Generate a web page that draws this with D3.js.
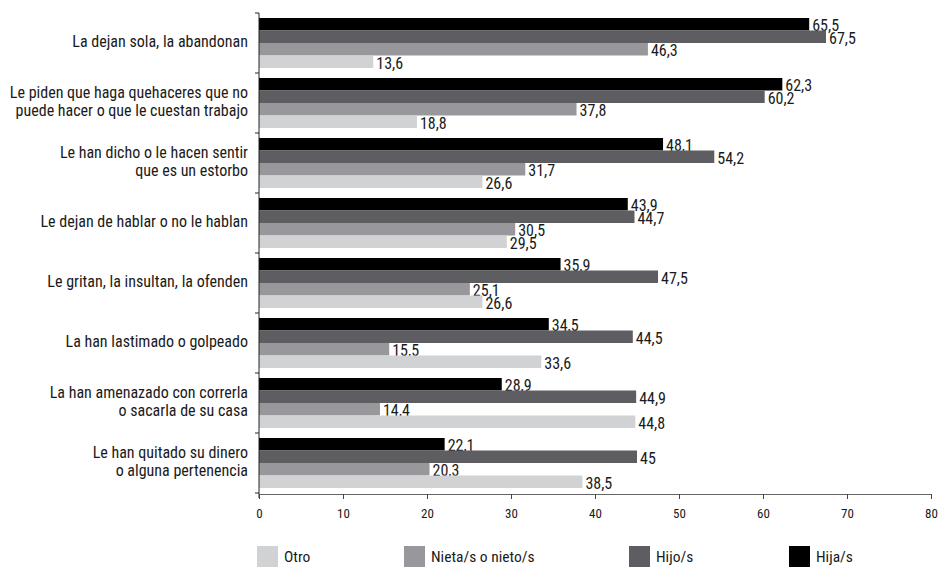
<!DOCTYPE html>
<html>
<head>
<meta charset="utf-8">
<script src="https://cdn.jsdelivr.net/npm/d3@7"></script>
<style>
  body { margin: 0; background: #fff; }
  text { font-family: "Roboto Condensed", "Liberation Sans Narrow", "Arial Narrow", "Liberation Sans", sans-serif; }
</style>
</head>
<body>
<div id="chart"></div>
<script>
// Categories (top to bottom), each as lines of text
const categories = [
    ['La dejan sola, la abandonan'],
    ['Le piden que haga quehaceres que no', 'puede hacer o que le cuestan trabajo'],
    ['Le han dicho o le hacen sentir', 'que es un estorbo'],
    ['Le dejan de hablar o no le hablan'],
    ['Le gritan, la insultan, la ofenden'],
    ['La han lastimado o golpeado'],
    ['La han amenazado con correrla', 'o sacarla de su casa'],
    ['Le han quitado su dinero', 'o alguna pertenencia']
];

// Series names, in bar order within a group (top to bottom)
const seriesNames = ['Hija/s', 'Hijo/s', 'Nieta/s o nieto/s', 'Otro'];
const seriesColors = ['#000000', '#5e5d62', '#98979c', '#d1d2d4'];

const hija  = [65.5, 62.3, 48.1, 43.9, 35.9, 34.5, 28.9, 22.1];
const hijo  = [67.5, 60.2, 54.2, 44.7, 47.5, 44.5, 44.9, 45];
const nieta = [46.3, 37.8, 31.7, 30.5, 25.1, 15.5, 14.4, 20.3];
const otro  = [13.6, 18.8, 26.6, 29.5, 26.6, 33.6, 44.8, 38.5];

// Legend order (left to right)
const legendOrder = ['Otro', 'Nieta/s o nieto/s', 'Hijo/s', 'Hija/s'];
const xTicks = [0, 10, 20, 30, 40, 50, 60, 70, 80];

const width = 938, height = 576;
const margin = { top: 13, left: 259, right: 7, bottom: 83 };
const innerW = width - margin.left - margin.right;
const innerH = height - margin.top - margin.bottom;

const seriesValues = [hija, hijo, nieta, otro];
const fmt = v => String(v).replace('.', ',');

const svg = d3.select('#chart').append('svg')
    .attr('width', width)
    .attr('height', height);

const g = svg.append('g').attr('transform', `translate(${margin.left},${margin.top})`);

const x = d3.scaleLinear().domain([0, 80]).range([0, innerW]);
const y0 = d3.scaleBand().domain(d3.range(categories.length)).range([0, innerH]).paddingInner(0).paddingOuter(0);
const y1 = d3.scaleBand().domain(d3.range(seriesNames.length))
    .range([0, y0.bandwidth()]).paddingOuter(0.4);

// Bars
const groups = g.selectAll('g.grp')
    .data(categories)
    .enter().append('g')
    .attr('class', 'grp')
    .attr('transform', (d, i) => `translate(0,${y0(i)})`);

groups.each(function(cat, ci) {
    const grp = d3.select(this);
    seriesNames.forEach((s, si) => {
        const v = seriesValues[si][ci];
        grp.append('rect')
            .attr('x', 0)
            .attr('y', y1(si))
            .attr('width', x(v))
            .attr('height', y1.bandwidth())
            .attr('fill', seriesColors[si]);
        grp.append('text')
            .attr('x', x(v) + 3)
            .attr('y', y1(si) + y1.bandwidth() / 2 + 7)
            .attr('font-size', '16px')
            .attr('fill', '#1a1a1a')
            .text(fmt(v));
    });

    // category label
    const lines = cat;
    const lh = 18;
    const cy = y0.bandwidth() / 2 - 1.5;
    const t = grp.append('text')
        .attr('text-anchor', 'end')
        .attr('font-size', '16px')
        .attr('fill', '#1a1a1a');
    lines.forEach((ln, li) => {
        t.append('tspan')
            .attr('x', -11)
            .attr('y', cy + 5.5 + (li - (lines.length - 1) / 2) * lh)
            .text(ln);
    });
});

// Y axis
const yAxis = g.append('g');
yAxis.append('line')
    .attr('x1', 0).attr('x2', 0)
    .attr('y1', 0).attr('y2', innerH + 5)
    .attr('stroke', '#222').attr('stroke-width', 1);
yAxis.selectAll('line.tk')
    .data(d3.range(categories.length + 1))
    .enter().append('line')
    .attr('class', 'tk')
    .attr('x1', -4).attr('x2', 0)
    .attr('y1', i => i < categories.length ? y0(i) : innerH)
    .attr('y2', i => i < categories.length ? y0(i) : innerH)
    .attr('stroke', '#222');

// X axis
const xAxis = g.append('g')
    .attr('transform', `translate(0,${innerH + 1})`)
    .call(d3.axisBottom(x).tickValues(xTicks).tickSize(5).tickSizeOuter(0).tickPadding(10));
xAxis.select('.domain').attr('stroke', '#666');
xAxis.selectAll('.tick line').attr('stroke', '#444');
xAxis.selectAll('.tick text')
    .attr('font-size', '13px')
    .attr('fill', '#1a1a1a')
    .style('font-family', '"Roboto Condensed", "Liberation Sans Narrow", "Arial Narrow", "Liberation Sans", sans-serif');

// Legend
const legendX = [257, 404, 629, 789];
const legend = svg.append('g');
legendOrder.forEach((name, i) => {
    const si = seriesNames.indexOf(name);
    legend.append('rect')
        .attr('x', legendX[i]).attr('y', 546)
        .attr('width', 21).attr('height', 21)
        .attr('fill', seriesColors[si]);
    legend.append('text')
        .attr('x', legendX[i] + 27).attr('y', 562)
        .attr('font-size', '15.5px')
        .attr('fill', '#1a1a1a')
        .text(name);
});
</script>
</body>
</html>
